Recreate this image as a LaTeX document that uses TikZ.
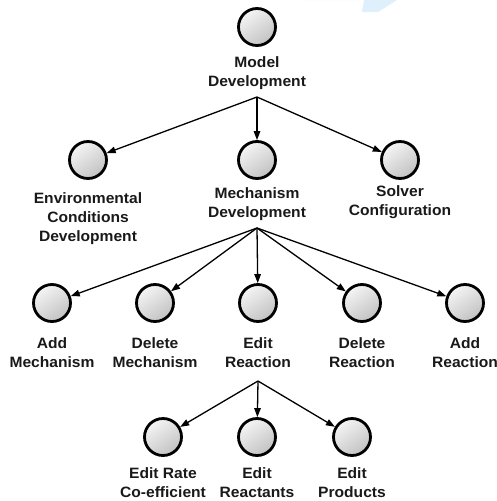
\documentclass[tikz,border=0pt]{standalone}
\usepackage{fontspec}
\newfontfamily\lblfont[FakeStretch=1.04]{Liberation Sans}
\usetikzlibrary{arrows.meta}
\definecolor{wmblue}{HTML}{DDF0FB}
\tikzset{
  x=1pt, y=-1pt,
  ball/.style={circle, draw=black, line width=2.8pt, minimum size=37pt, inner sep=0pt,
    top color=gray!8, bottom color=gray!48, shading angle=35},
  lbl/.style={align=center, inner sep=0pt, font=\lblfont\bfseries\fontsize{15}{19}\selectfont, text=black!90},
  conn/.style={line width=1.3pt, -{Triangle[length=9pt,width=6.5pt]}},
}
\begin{document}
\begin{tikzpicture}
\useasboundingbox (0,0) rectangle (497,501);
% watermark
\fill[wmblue] (301,0) arc[start angle=180, end angle=360, x radius=30, y radius=12] -- cycle;
\fill[wmblue] (364,0) -- (397,0) -- (378,12) -- (362,12) -- cycle;

% root
\node[ball] (root) at (257,27) {};
\node[lbl] (rootl) at (257,73) {Model\\Development};
\coordinate (rootc) at (257,97);

% level 2
\node[ball] (env) at (88,160) {};
\node[ball] (mech) at (257,160) {};
\node[ball] (solv) at (400,160) {};
\node[lbl] (envl) at (88,219) {Environmental\\Conditions\\Development};
\node[lbl] (mechl) at (257,204) {Mechanism\\Development};
\node[lbl] (solvl) at (400,202) {Solver\\Configuration};
\coordinate (mechc) at (257,228);

% level 3
\node[ball] (addm) at (52,303) {};
\node[ball] (delm) at (155,303) {};
\node[ball] (editr) at (258,303) {};
\node[ball] (delr) at (362,303) {};
\node[ball] (addr) at (465,303) {};
\node[lbl] (addml) at (52,353) {Add\\Mechanism};
\node[lbl] (delml) at (155,353) {Delete\\Mechanism};
\node[lbl] (editrl) at (258,353) {Edit\\Reaction};
\node[lbl] (delrl) at (362,353) {Delete\\Reaction};
\node[lbl] (addrl) at (465,353) {Add\\Reaction};
\coordinate (editrc) at (258,381);

% level 4
\node[ball] (rate) at (163,437) {};
\node[ball] (reac) at (257,437) {};
\node[ball] (prod) at (352,437) {};
\node[lbl] (ratel) at (163,483) {Edit Rate\\Co-efficient};
\node[lbl] (reacl) at (257,483) {Edit\\Reactants};
\node[lbl] (prodl) at (352,483) {Edit\\Products};

% connectors
\draw[conn] (rootc) -- (env);
\draw[conn] (rootc) -- (mech);
\draw[conn] (rootc) -- (solv);
\draw[conn] (mechc) -- (addm);
\draw[conn] (mechc) -- (delm);
\draw[conn] (mechc) -- (editr);
\draw[conn] (mechc) -- (delr);
\draw[conn] (mechc) -- (addr);
\draw[conn] (editrc) -- (rate);
\draw[conn] (editrc) -- (reac);
\draw[conn] (editrc) -- (prod);
\end{tikzpicture}
\end{document}
